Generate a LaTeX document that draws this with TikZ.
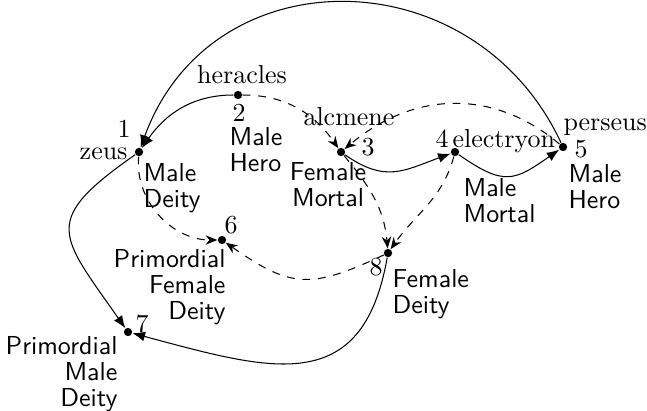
\documentclass[tikz,border=0pt]{standalone}
\usetikzlibrary{arrows.meta}
\begin{document}
\begin{tikzpicture}[x=0.385pt,y=-0.385pt,
  dot/.style={circle,fill=black,inner sep=0pt,minimum size=3.2pt},
  lbl/.style={inner sep=0pt,font=\sffamily\fontsize{10}{10}\selectfont},
  nm/.style={inner sep=0pt,anchor=base},
  sol/.style={-{Latex[length=4.8pt,width=3.8pt]},line width=0.4pt},
  dsh/.style={dashed,line width=0.4pt,-{Stealth[length=4.5pt,width=3.6pt]}}]
\useasboundingbox (0,0) rectangle (647,410);
% dots
\node[dot] (n1) at (139,152) {};
\node[dot] (n2) at (238,95) {};
\node[dot] (n3) at (341,152) {};
\node[dot] (n4) at (455,152) {};
\node[dot] (n5) at (563,147) {};
\node[dot] (n6) at (222,240) {};
\node[dot] (n7) at (128,332) {};
\node[dot] (n8) at (388,253) {};
% names
\node[nm] (heracles) at (242,83) {heracles};
\node[nm,anchor=base east] (zeus) at (128,159) {zeus};
\node[nm,anchor=base west] (alcmene) at (303,125) {alcmene};
\node[nm,anchor=base west] (electryon) at (452,147) {electryon};
\node[nm,anchor=base west] (perseus) at (563,130) {perseus};
% numbers
\node[nm] (k1) at (124,137) {1};
\node[nm] (k2) at (239,121) {2};
\node[nm] (k3) at (368,155) {3};
\node[nm] (k4) at (442,147) {4};
\node[nm] (k5) at (581,157) {5};
\node[nm] (k6) at (231,233) {6};
\node[nm] (k7) at (142,332) {7};
\node[nm] (k8) at (376,275) {8};
% types
\node[lbl,align=left,anchor=north west] (t1) at (143,163) {Male\\Deity};
\node[lbl,align=left,anchor=north west] (t2) at (229,127) {Male\\Hero};
\node[lbl,align=center,anchor=north] (t3) at (328,162) {Female\\Mortal};
\node[lbl,align=left,anchor=north west] (t4) at (463,178) {Male\\Mortal};
\node[lbl,align=left,anchor=north west] (t5) at (568,164) {Male\\Hero};
\node[lbl,align=right,anchor=north east] (t6) at (226,249) {Primordial\\Female\\Deity};
\node[lbl,align=right,anchor=north east] (t7) at (118,336) {Primordial\\Male\\Deity};
\node[lbl,align=left,anchor=north west] (t8) at (392,269) {Female\\Deity};
% edges
\draw[sol] (n5) to[out=115,in=70,looseness=1.25] (n1);
\draw[sol] (n2) to[out=180,in=55] (n1);
\draw[dsh] (n2) to[out=0,in=125] (n3);
\draw[dsh] (n5) to[out=140,in=40,looseness=1.05] (n3);
\draw[sol] (n3) to[out=-35,in=200,looseness=1.2] (n4);
\draw[sol] (n4) to[out=-35,in=215,looseness=1.4] (n5);
\draw[dsh] (n3) to[out=-50,in=95] (n8);
\draw[dsh] (n4) to[out=-105,in=55] (n8);
\draw[dsh] (n1) to[out=-95,in=180] (n6);
\draw[dsh] (n8) to[out=205,in=-35,looseness=1.3] (n6);
\draw[sol] (n1) to[out=215,in=125,looseness=1.7] (n7);
\draw[sol] (n8) to[out=-100,in=-15,looseness=1.38] (n7);
\end{tikzpicture}
\end{document}
